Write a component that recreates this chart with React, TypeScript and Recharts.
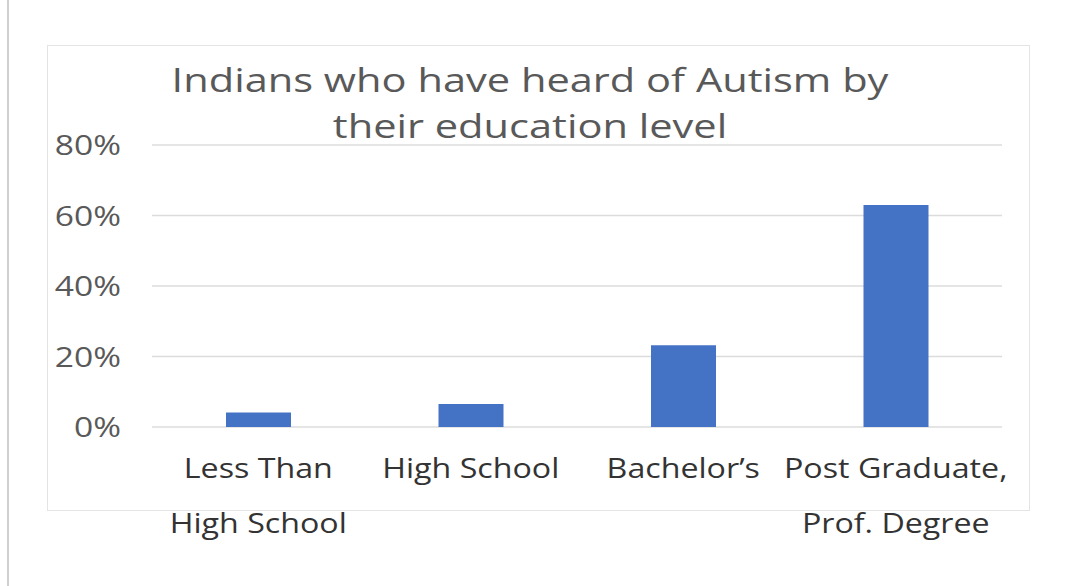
import React from "react";
import { BarChart, Bar, XAxis, YAxis, CartesianGrid } from "recharts";

const categories = ["Less Than High School", "High School", "Bachelor’s", "Post Graduate, Prof. Degree"];
const tickLines: string[][] = [
  ["Less Than", "High School"],
  ["High School"],
  ["Bachelor’s"],
  ["Post Graduate,", "Prof. Degree"],
];
const values = [4.1, 6.5, 23.2, 63];
const yTicks = [0, 20, 40, 60, 80];
const titleLines = ["Indians who have heard of Autism by", "their education level"];

const data = categories.map((c, i) => ({ name: c, idx: i, value: values[i] }));

const FONT = "'Open Sans', 'Noto Sans', sans-serif";

const XTick = (props: any) => {
  const { x, y, payload } = props;
  const lines = tickLines[payload.index] || [String(payload.value)];
  return (
    <g>
      {lines.map((l, i) => (
        <text
          key={i}
          transform={`translate(${x},${y + 43 + i * 55}) scale(1.15,1)`}
          x={0}
          y={0}
          textAnchor="middle"
          fill="#333333"
          fontSize={28}
          fontFamily={FONT}
        >
          {l}
        </text>
      ))}
    </g>
  );
};

const YTick = (props: any) => {
  const { x, y, payload } = props;
  return (
    <text
      transform={`translate(${x - 23},${y}) scale(1.2,1)`}
      x={0}
      y={0}
      dy="0.36em"
      textAnchor="end"
      fill="#595959"
      fontSize={28}
      fontFamily={FONT}
    >
      {payload.value}%
    </text>
  );
};

export default function App() {
  return (
    <div style={{ position: "absolute", left: 0, top: 0, width: 1067, height: 586, background: "#fff", overflow: "hidden" }}>
      <div style={{ position: "absolute", left: 7, top: 0, width: 2, height: 586, background: "#cfcfcf" }} />
      <div style={{ position: "absolute", left: 47, top: 45, width: 983, height: 466, border: "1px solid #e4e4e4", boxSizing: "border-box" }} />
      <div style={{ position: "absolute", left: 0, top: 0 }}>
        <BarChart width={1067} height={586} data={data} margin={{ top: 145, right: 65, bottom: 0, left: 0 }}>
          <CartesianGrid horizontal vertical={false} stroke="#dcdcdc" strokeWidth={1.5} />
          <XAxis dataKey="name" axisLine={false} tickLine={false} height={159} tick={<XTick />} interval={0} />
          <YAxis width={152} domain={[0, 80]} ticks={yTicks} axisLine={false} tickLine={false} tick={<YTick />} />
          <Bar dataKey="value" fill="#4472C4" barSize={65} isAnimationActive={false} />
        </BarChart>
      </div>
      {titleLines.map((t, i) => (
        <div
          key={i}
          style={{
            position: "absolute",
            left: 0,
            width: 1060,
            top: 63 + i * 46,
            textAlign: "center",
            fontFamily: FONT,
            fontSize: 33,
            lineHeight: "33px",
            color: "#595959",
            whiteSpace: "nowrap",
            transform: "scaleX(1.26)",
            transformOrigin: "530px 0",
          }}
        >
          {t}
        </div>
      ))}
    </div>
  );
}
